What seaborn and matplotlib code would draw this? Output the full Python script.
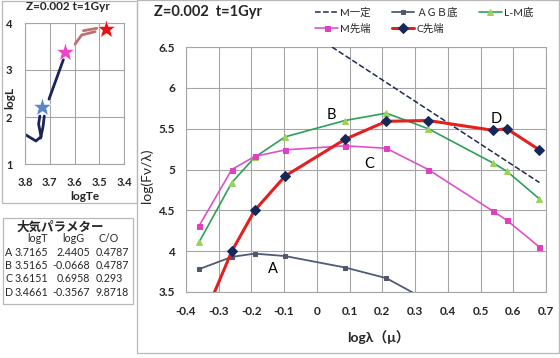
import numpy as np
import pandas as pd
import matplotlib
matplotlib.use("Agg")
import matplotlib.pyplot as plt
from matplotlib.patches import Rectangle
import seaborn as sns

# main chart: log(Fv/lambda) vs log lambda
band_x = [-0.36, -0.26, -0.19, -0.097, 0.086, 0.212, 0.34, 0.538, 0.58, 0.68]
agb_base = [3.78, 3.93, 3.97, 3.94, 3.80, 3.67, 3.39]
lm_base = [4.11, 4.84, 5.15, 5.40, 5.60, 5.69, 5.50, 5.08, 4.98, 4.64]
m_tip = [4.31, 5.00, 5.16, 5.24, 5.29, 5.26, 5.00, 4.49, 4.38, 4.05]
c_tip = [3.05, 4.00, 4.50, 4.92, 5.37, 5.59, 5.60, 5.48, 5.50, 5.24]
m_const_x = [0.046, 0.68]
m_const_y = [6.5, 4.84]

point_labels = ["A", "B", "C", "D"]
label_x = [-0.134, 0.043, 0.159, 0.547]
label_y = [3.78, 5.67, 5.07, 5.62]

# HR diagram inset
trk1_te = [3.80, 3.756, 3.735, 3.745, 3.740]
trk1_l = [1.63, 1.49, 1.58, 1.85, 2.02]
trk2_te = [3.737, 3.727, 3.722]
trk2_l = [1.55, 1.80, 2.02]
trk3_te = [3.703, 3.645]
trk3_l = [2.38, 3.22]
agb_lo_te = [3.598, 3.571, 3.517]
agb_lo_l = [3.55, 3.745, 3.815]
agb_hi_te = [3.564, 3.510]
agb_hi_l = [3.836, 3.887]
star_te = [3.733, 3.638, 3.473]
star_l = [2.21, 3.39, 3.87]
star_cols = ["#5b86c5", "#ee44cc", "#ee1111"]

# parameter table
tbl_names = ["A", "B", "C", "D"]
tbl_logt = ["3.7165", "3.5165", "3.6151", "3.4661"]
tbl_logg = ["2.4405", "-0.0668", "0.6958", "-0.3567"]
tbl_co = ["0.4787", "0.4787", "0.293", "9.8718"]

sns.set_style("white")
plt.rcParams['font.family'] = ['Lato', 'Noto Sans CJK JP', 'DejaVu Sans']

W, H = 560, 358
fig = plt.figure(figsize=(5.6, 3.58), dpi=100)

def fx(px):
    return px / W

def fy(py):
    return 1 - py / H

# panel frames
for (x0, y0, x1, y1) in [(2, 1, 137, 203), (3, 218, 133, 304), (137, 0, 559, 353)]:
    fig.patches.append(Rectangle((fx(x0), fy(y1)), fx(x1) - fx(x0), fy(y0) - fy(y1),
                                 transform=fig.transFigure, fill=False,
                                 edgecolor="#b8b8b8", linewidth=0.9))

grid_kw = dict(color="#a6a6a6", linewidth=0.8)

# ---- main axes
ax = fig.add_axes([fx(186), fy(292), fx(546) - fx(186), fy(47) - fy(292)])
sns.lineplot(x=m_const_x, y=m_const_y, ax=ax, color="#1c2a55", linestyle="--",
             linewidth=1.1, label="M一定", zorder=3)
sns.lineplot(x=band_x[:len(agb_base)], y=agb_base, ax=ax, color="#4e5c76", linewidth=1.3,
             marker="s", markersize=3.3, markerfacecolor="#55556e", markeredgecolor="#55556e",
             label="ＡＧＢ底", sort=False, zorder=3)
sns.lineplot(x=band_x, y=lm_base, ax=ax, color="#2ca05a", linewidth=1.2,
             marker="^", markersize=4.3, markerfacecolor="#9bd35a", markeredgecolor="#9bd35a",
             label="L-M底", sort=False, zorder=3)
sns.lineplot(x=band_x, y=m_tip, ax=ax, color="#e050c8", linewidth=1.2,
             marker="s", markersize=3.6, markerfacecolor="#e040c0", markeredgecolor="#e040c0",
             label="M先端", sort=False, zorder=3)
sns.lineplot(x=band_x, y=c_tip, ax=ax, color="#e3201e", linewidth=2.2,
             marker="D", markersize=4.8, markerfacecolor="#15285a", markeredgecolor="#15285a",
             label="C先端", sort=False, zorder=4)

for t, x, y in zip(point_labels, label_x, label_y):
    ax.text(x, y, t, fontsize=10.5, ha="center", va="center", color="black")

ax.set_xlim(-0.4, 0.7)
ax.set_ylim(3.5, 6.5)
ax.set_xticks(np.round(np.arange(-0.4, 0.71, 0.1), 1))
ax.set_xticklabels(["-0.4", "-0.3", "-0.2", "-0.1", "0", "0.1", "0.2", "0.3", "0.4", "0.5", "0.6", "0.7"])
ax.set_yticks([3.5, 4, 4.5, 5, 5.5, 6, 6.5])
ax.set_yticklabels(["3.5", "4", "4.5", "5", "5.5", "6", "6.5"])
ax.grid(True, **grid_kw)
ax.tick_params(axis="x", length=0, pad=10, labelsize=8.5)
ax.tick_params(axis="y", length=0, pad=8, labelsize=8.5)
for lbl in ax.get_xticklabels() + ax.get_yticklabels():
    lbl.set_fontweight("bold")
for s in ax.spines.values():
    s.set_color("#a6a6a6")
    s.set_linewidth(0.8)
ax.set_xlabel("")
ax.set_ylabel("")
fig.text(fx(147), fy(176), "log(Fν/λ)", rotation=90, fontsize=10, ha="center", va="center")
fig.text(fx(378), fy(337), "logλ（μ）", fontsize=10, fontweight="bold", ha="center", va="center")
fig.text(fx(154), fy(12), "Z=0.002  t=1Gyr", fontsize=10.5, fontweight="bold", ha="left", va="center")

hs, ls = ax.get_legend_handles_labels()
ax.get_legend().remove()
order = [0, 3, 1, 4, 2]
fig.legend([hs[i] for i in order], [ls[i] for i in order], ncol=3, frameon=False,
           loc="upper left", bbox_to_anchor=(fx(311), fy(3)), fontsize=7.5,
           handlelength=2.2, handletextpad=0.2, columnspacing=2.0, labelspacing=0.55,
           borderaxespad=0)

# ---- HR inset
ax2 = fig.add_axes([fx(25), fy(164), fx(124) - fx(25), fy(23) - fy(164)])
for te, lum in [(trk1_te, trk1_l), (trk2_te, trk2_l), (trk3_te, trk3_l)]:
    sns.lineplot(x=te, y=lum, ax=ax2, color="#1a2456", linewidth=2, sort=False)
for te, lum in [(agb_lo_te, agb_lo_l), (agb_hi_te, agb_hi_l)]:
    sns.lineplot(x=te, y=lum, ax=ax2, color="#c07070", linewidth=2, sort=False)
for te, lum, c in zip(star_te, star_l, star_cols):
    ax2.plot(te, lum, marker="*", markersize=14, color=c, markeredgecolor="white",
             markeredgewidth=0.4, zorder=5, clip_on=False)
ax2.set_xlim(3.8, 3.4)
ax2.set_ylim(1, 4)
ax2.set_xticks([3.8, 3.7, 3.6, 3.5, 3.4])
ax2.set_xticklabels(["3.8", "3.7", "3.6", "3.5", "3.4"])
ax2.set_yticks([1, 2, 3, 4])
ax2.set_yticklabels(["1", "2", "3", "4"])
ax2.grid(True, **grid_kw)
ax2.tick_params(axis="x", length=0, pad=9, labelsize=8)
ax2.tick_params(axis="y", length=0, pad=9, labelsize=8)
for lbl in ax2.get_xticklabels() + ax2.get_yticklabels():
    lbl.set_fontweight("bold")
for s in ax2.spines.values():
    s.set_color("#a6a6a6")
    s.set_linewidth(0.8)
ax2.set_xlabel("")
ax2.set_ylabel("")
fig.text(fx(68), fy(7), "Z=0.002 t=1Gyr", fontsize=8.5, fontweight="bold", ha="center", va="center")
fig.text(fx(10), fy(98), "logL", rotation=90, fontsize=8.5, fontweight="bold", ha="center", va="center")
fig.text(fx(85), fy(197), "logTe", fontsize=8.5, fontweight="bold", ha="center", va="center")

# ---- table
fig.text(fx(16), fy(227), "大気パラメター", fontsize=9, fontweight="bold", ha="left", va="center")
for txt, cx in [("logT", 38), ("logG", 73), ("C/O", 109)]:
    fig.text(fx(cx), fy(238), txt, fontsize=7.7, ha="center", va="center")
for i, (n, t, g, c) in enumerate(zip(tbl_names, tbl_logt, tbl_logg, tbl_co)):
    yy = fy(252 + i * 13.4)
    fig.text(fx(5), yy, n, fontsize=7.7, ha="left", va="center")
    fig.text(fx(15), yy, t, fontsize=7.7, ha="left", va="center")
    fig.text(fx(90), yy, g, fontsize=7.7, ha="right", va="center")
    fig.text(fx(96), yy, c, fontsize=7.7, ha="left", va="center")

fig.savefig("out.png", dpi=100)
